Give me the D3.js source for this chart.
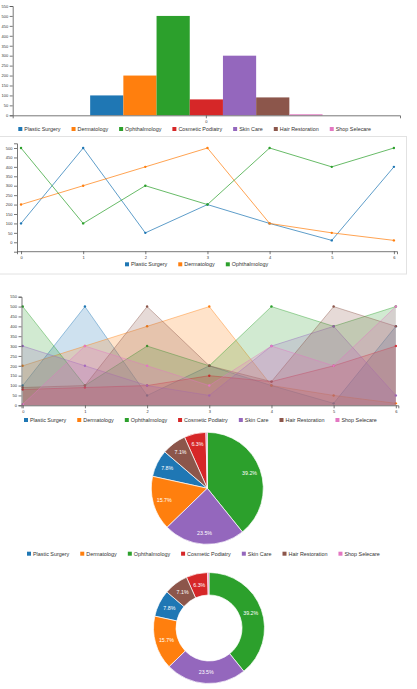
<!DOCTYPE html>
<html><head><meta charset="utf-8">
<script src="https://cdn.jsdelivr.net/npm/d3@7"></script>
<style>
body{margin:0;background:#fff}
svg{display:block;font-family:"Liberation Sans",Arial,sans-serif}
.axis text{font-size:4px;fill:#333}
.axis path,.axis line{stroke:#555;stroke-width:0.8}
.leg text{font-size:5.4px;fill:#333}
</style>
</head><body>
<svg id="c" width="417" height="689"></svg>
<script>
// ---------- data ----------
const categories = ["Plastic Surgery","Dermatology","Ophthalmology","Cosmetic Podiatry","Skin Care","Hair Restoration","Shop Selecare"];
const barGroup = ["0"];
const barValues = [100, 200, 500, 80, 300, 90, 5];
const xPoints = [0, 1, 2, 3, 4, 5, 6];
const plasticSurgery   = [100, 500, 50, 200, 100, 10, 400];
const dermatology      = [200, 300, 400, 500, 100, 50, 10];
const ophthalmology    = [500, 100, 300, 200, 500, 400, 500];
const cosmeticPodiatry = [80, 90, 100, 150, 120, 200, 300];
const skinCare         = [300, 200, 100, 50, 300, 400, 50];
const hairRestoration  = [90, 100, 500, 200, 120, 500, 400];
const shopSelecare     = [5, 300, 200, 100, 300, 200, 500];
const yTicks550 = [0,50,100,150,200,250,300,350,400,450,500,550];
const yTicks500 = [0,50,100,150,200,250,300,350,400,450,500];

const allSeries = [plasticSurgery, dermatology, ophthalmology, cosmeticPodiatry, skinCare, hairRestoration, shopSelecare];
const lineSeries = allSeries.slice(0,3);

const color = d3.scaleOrdinal().domain(categories).range(d3.schemeCategory10);
const svg = d3.select("#c");

function legend(items, x0, y){
  const g = svg.append("g").attr("class","leg");
  let x = x0;
  items.forEach(name=>{
    g.append("rect").attr("x",x).attr("y",y-2).attr("width",4).attr("height",4).attr("fill",color(name));
    const t = g.append("text").attr("x",x+6).attr("y",y).attr("dy","0.35em").text(name);
    x += 6 + t.node().getComputedTextLength() + 11;
  });
}

// ---------- 1. grouped bar chart ----------
{
  const y = d3.scaleLinear().domain([0,550]).range([115.3, 6]);
  const x0 = d3.scaleBand().domain(barGroup).range([12.7, 400]).padding(0.25);
  const x1 = d3.scaleBand().domain(categories).range([0, x0.bandwidth()]);
  const g = svg.append("g");
  g.selectAll("rect").data(categories.map((c,i)=>({c, v:barValues[i]}))).join("rect")
    .attr("x", d=>x0("0")+x1(d.c)).attr("width", x1.bandwidth())
    .attr("y", d=>y(d.v)).attr("height", d=>y(0)-y(d.v))
    .attr("fill", d=>color(d.c));
  svg.append("g").attr("class","axis").attr("transform","translate(12.7,0)")
    .call(d3.axisLeft(y).tickValues(yTicks550).tickSize(3).tickPadding(1.5));
  svg.append("g").attr("class","axis").attr("transform","translate(0,115.3)")
    .call(d3.axisBottom(x0).tickSize(3).tickPadding(1.5));
  legend(categories, 18.3, 129);
}

// ---------- 2. line chart (card) ----------
{
  svg.append("rect").attr("x",-1).attr("y",136.5).attr("width",407.5).attr("height",137.5)
    .attr("fill","none").attr("stroke","#e2e2e2");
  const x = d3.scaleLinear().domain([-0.065, 6.05]).range([17, 397]);
  const y = d3.scaleLinear().domain([-50, 525]).range([251.7, 143.3]);
  svg.append("g").attr("class","axis").attr("transform","translate(17,0)")
    .call(d3.axisLeft(y).tickValues(yTicks500).tickSize(3).tickPadding(1.5));
  svg.append("g").attr("class","axis").attr("transform","translate(0,251.2)")
    .call(d3.axisBottom(x).tickValues(xPoints).tickFormat(d3.format("d")).tickSize(3).tickPadding(1.5));
  const line = d3.line().x((d,i)=>x(xPoints[i])).y(d=>y(d));
  lineSeries.forEach((s,k)=>{
    const c = color(categories[k]);
    svg.append("path").attr("d", line(s)).attr("fill","none").attr("stroke",c).attr("stroke-width",0.8).attr("stroke-opacity",0.9);
    svg.append("g").selectAll("circle").data(s).join("circle")
      .attr("cx",(d,i)=>x(xPoints[i])).attr("cy",d=>y(d)).attr("r",1.2).attr("fill",c);
  });
  legend(categories.slice(0,3), 125, 264.3);
}

// ---------- 3. area chart ----------
{
  const x = d3.scaleLinear().domain([-0.02, 6.04]).range([21.5, 398.3]);
  const y = d3.scaleLinear().domain([0,550]).range([405.3, 296.7]);
  const area = d3.area().x((d,i)=>x(xPoints[i])).y0(y(0)).y1(d=>y(d));
  const line = d3.line().x((d,i)=>x(xPoints[i])).y(d=>y(d));
  allSeries.forEach((s,k)=>{
    const c = color(categories[k]);
    svg.append("path").attr("d", area(s)).attr("fill",c).attr("fill-opacity",0.22);
    svg.append("path").attr("d", line(s)).attr("fill","none").attr("stroke",c).attr("stroke-width",0.7).attr("stroke-opacity",0.6);
    svg.append("g").selectAll("circle").data(s).join("circle")
      .attr("cx",(d,i)=>x(xPoints[i])).attr("cy",d=>y(d)).attr("r",1.2).attr("fill",c);
  });
  svg.append("g").attr("class","axis").attr("transform","translate(21.5,0)")
    .call(d3.axisLeft(y).tickValues(yTicks550).tickSize(3).tickPadding(1.5));
  svg.append("g").attr("class","axis").attr("transform","translate(0,405.3)")
    .call(d3.axisBottom(x).tickValues(xPoints).tickFormat(d3.format("d")).tickSize(3).tickPadding(1.5));
  legend(categories, 24, 420);
}

// ---------- 4. pie & 5. donut ----------
const pieData = categories.map((c,i)=>({c, v:barValues[i]}));
const total = d3.sum(barValues);
const pie = d3.pie().value(d=>d.v);
const fmt = d=>(d.data.v/total*100).toFixed(1)+"%";
{
  const r = 56;
  const g = svg.append("g").attr("transform","translate(207.3,488.3)");
  const arc = d3.arc().innerRadius(0).outerRadius(r);
  const labelArc = d3.arc().innerRadius(r*0.8).outerRadius(r*0.8);
  const arcs = pie(pieData);
  g.selectAll("path").data(arcs).join("path").attr("d",arc).attr("fill",d=>color(d.data.c))
    .attr("stroke","#fff").attr("stroke-width",0.7);
  g.selectAll("text").data(arcs.filter(d=>d.data.v/total>0.02)).join("text")
    .attr("transform",d=>`translate(${labelArc.centroid(d)})`).attr("text-anchor","middle").attr("dy","0.35em")
    .attr("font-size","5.3px").attr("fill","#fff").text(fmt);
  legend(categories, 27, 553.7);
}
{
  const r = 55.5;
  const g = svg.append("g").attr("transform","translate(209,628)");
  const arc = d3.arc().innerRadius(33).outerRadius(r);
  const arcs = pie(pieData);
  g.selectAll("path").data(arcs).join("path").attr("d",arc).attr("fill",d=>color(d.data.c))
    .attr("stroke","#fff").attr("stroke-width",0.7);
  g.selectAll("text").data(arcs.filter(d=>d.data.v/total>0.02)).join("text")
    .attr("transform",d=>`translate(${arc.centroid(d)})`).attr("text-anchor","middle").attr("dy","0.35em")
    .attr("font-size","5.3px").attr("fill","#fff").text(fmt);
}
</script>
</body></html>
